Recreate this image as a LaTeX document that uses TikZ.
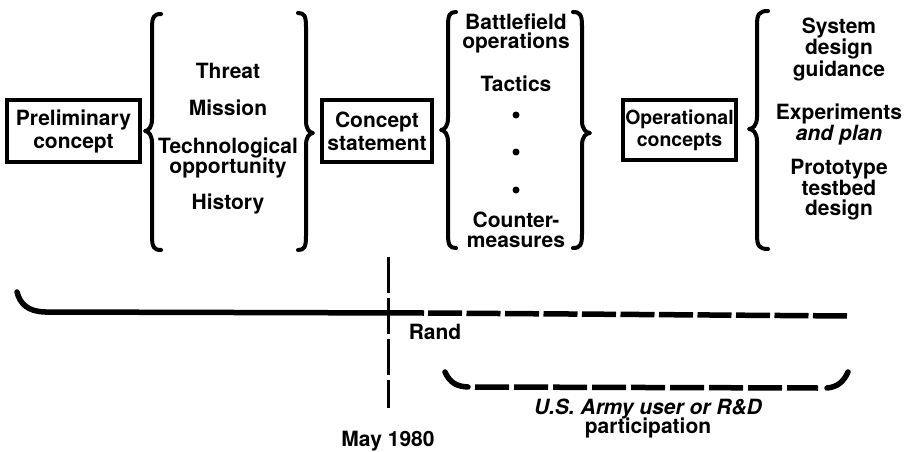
\documentclass[tikz,border=0pt]{standalone}
\usepackage{fontspec}
\setmainfont{TeX Gyre Heros}
\newcommand\drawCurlyBrace[6]{% tip-x, stem-x, end-x, top, mid, bottom
  \draw[bracestyle] (#3,#4) .. controls ({#2+0.2*(#3-#2)},#4) and (#2,{#4+3}) .. (#2,{#4+14})
    -- (#2,{#5-12}) .. controls (#2,{#5-4}) and ({#2+0.5*(#1-#2)},#5) .. (#1,#5)
    .. controls ({#2+0.5*(#1-#2)},#5) and (#2,{#5+4}) .. (#2,{#5+12})
    -- (#2,{#6-14}) .. controls (#2,{#6-3}) and ({#2+0.2*(#3-#2)},#6) .. (#3,#6);}
\begin{document}
\begin{tikzpicture}[x=1pt,y=-1pt,
  lbl/.style={font=\fontsize{21}{20}\selectfont\bfseries, anchor=base, inner sep=0pt},
  boxnode/.style={draw, line width=3.3pt, align=center, inner sep=0pt,
    font=\fontsize{21}{23}\selectfont\bfseries},
  bracestyle/.style={line width=4pt, line cap=round, line join=round},
  timeline/.style={line width=5.5pt},
  dashline/.style={line width=5.5pt, dash pattern=on 34pt off 4.5pt},
  vdash/.style={line width=3pt, dash pattern=on 36pt off 5pt},
  dotnode/.style={circle, fill, inner sep=0pt, minimum size=7pt}]
\useasboundingbox[fill=white] (0,0) rectangle (908,452);

% boxes
\node[boxnode, minimum width=133pt, minimum height=62pt] (pc) at (73.5,131) {Preliminary\\concept};
\node[boxnode, minimum width=110pt, minimum height=62pt] (cs) at (377,131) {Concept\\statement};
\node[boxnode, minimum width=113pt, minimum height=60pt,
      font=\fontsize{19.5}{22}\selectfont\bfseries] (oc) at (679.5,130) {Operational\\concepts};

% braces
\drawCurlyBrace{145}{152}{161}{14}{131}{250}
\drawCurlyBrace{313}{306}{298}{13}{133}{250}
\drawCurlyBrace{441}{448}{456}{12}{130}{248}
\drawCurlyBrace{590}{582}{573}{12}{133}{248}
\drawCurlyBrace{749}{757}{768}{11}{129}{249}

% group 1
\node[lbl] (g1a) at (228,78) {Threat};
\node[lbl] (g1b) at (228,115) {Mission};
\node[lbl] (g1c) at (228,153) {Technological};
\node[lbl] (g1d) at (228,173) {opportunity};
\node[lbl] (g1e) at (228,209) {History};

% group 3
\node[lbl] (g3a) at (516,30) {Battlefield};
\node[lbl] (g3b) at (516,49) {operations};
\node[lbl] (g3c) at (516,92) {Tactics};
\node[dotnode] (d1) at (516,115) {};
\node[dotnode] (d2) at (516,152) {};
\node[dotnode] (d3) at (516,190) {};
\node[lbl] (g3d) at (516,227) {Counter-};
\node[lbl] (g3e) at (516,247) {measures};

% group 5
\node[lbl] (g5a) at (839,34) {System};
\node[lbl] (g5b) at (839,55) {design};
\node[lbl] (g5c) at (839,77) {guidance};
\node[lbl] (g5d) at (839,119) {Experiments};
\node[lbl, font=\fontsize{21}{20}\selectfont\bfseries\itshape] (g5e) at (839,140) {and plan};
\node[lbl] (g5f) at (839,174) {Prototype};
\node[lbl] (g5g) at (839,195) {testbed};
\node[lbl] (g5h) at (839,215) {design};

% timeline
\coordinate (tl0) at (17,292);
\coordinate (tl1) at (45,312);
\coordinate (tl2) at (424,313);
\coordinate (tl3) at (428,313);
\coordinate (tl4) at (851,316);
\draw[timeline, line cap=round] (tl0) .. controls (20,304) and (28,311.5) .. (tl1);
\draw[timeline] (tl1) -- (tl2);
\draw[dashline] (tl3) -- (tl4);

% May 1980 marker
\coordinate (v0) at (388,257);
\coordinate (v1) at (388,408);
\draw[vdash] (v0) -- (v1);
\node[lbl] (rand) at (435,339) {Rand};
\node[lbl] (may) at (388,446) {May 1980};

% U.S. Army brace
\coordinate (u0) at (445,372);
\coordinate (u1) at (468,387);
\coordinate (u2) at (475,387);
\coordinate (u3) at (818,388);
\coordinate (u4) at (827,388);
\coordinate (u5) at (848,372);
\draw[timeline, line cap=round] (u0) .. controls (450,383) and (457,386.5) .. (u1);
\draw[dashline, dash pattern=on 34pt off 5pt] (u2) -- (u3);
\draw[timeline, line cap=round] (u4) .. controls (838,387) and (844,381) .. (u5);
\node[lbl, font=\fontsize{21}{20}\selectfont\bfseries\itshape] (us) at (648,414) {U.S. Army user or R\&D};
\node[lbl] (part) at (648,433) {participation};
\end{tikzpicture}
\end{document}
